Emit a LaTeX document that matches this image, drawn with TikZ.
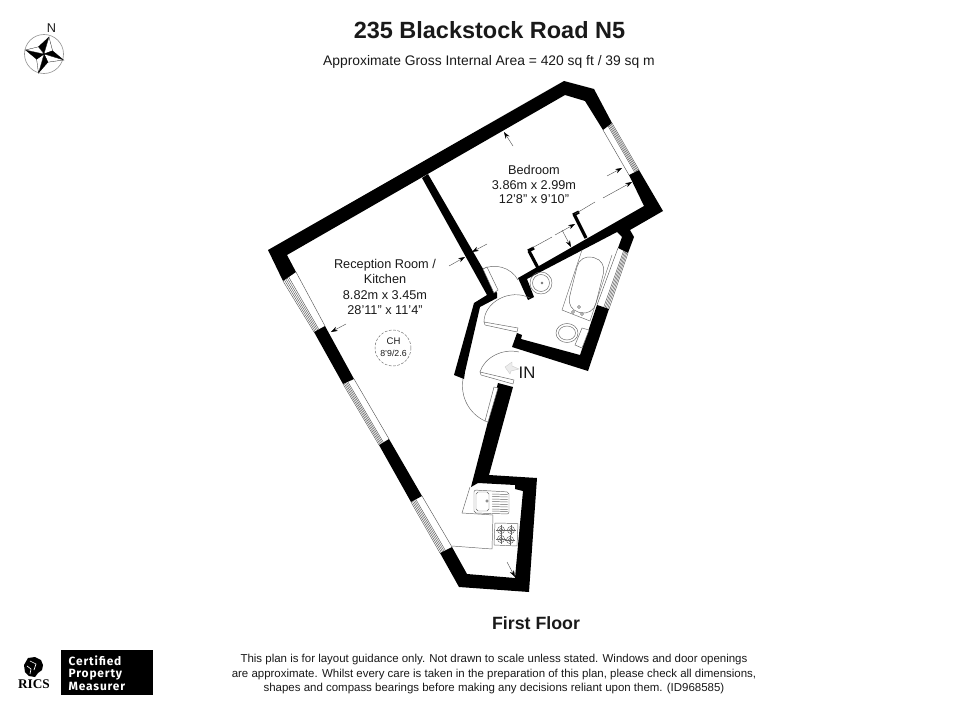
\documentclass[tikz,border=0pt]{standalone}
\usepackage{fontspec}
\setmainfont{Liberation Sans}
\newfontfamily\badgefont[LetterSpace=7]{Fira Sans}
\usepackage{xcolor}
\usetikzlibrary{calc}
\usetikzlibrary{arrows.meta}

\definecolor{fitting}{gray}{0.4}
\tikzset{
    wall/.style={fill=black,draw=none},
    fit/.style={draw=fitting,line width=0.35pt},
    glass/.style={draw=black!70,line width=0.3pt},
    leaf/.style={draw=fitting,line width=0.35pt,fill=white},
    stub/.style={line width=2.4pt,line cap=butt,black},
    dimline/.style={draw=black!70,line width=0.3pt},
    dimtip/.style={draw=black!70,line width=0.3pt,-{Stealth[length=5pt,width=3.4pt,black]}},
    label/.style={font=\fontsize{9.6}{11}\selectfont,align=center,text=black!90},
    footer/.style={font=\fontsize{8.65}{11}\selectfont,text=black!90}
}
% window bay: outer start, outer end, inner start, inner end
\newcommand{\bay}[4]{
    \foreach \f in {0,0.11,0.22,0.33,0.44,1} {
        \draw[glass] ($(#1)!\f!(#3)$) -- ($(#2)!\f!(#4)$);
    }
}

\begin{document}
\begin{tikzpicture}[x=0.0265cm,y=-0.0265cm]
    \useasboundingbox (0,0) rectangle (980,707);

    % Titre
    \node[font=\fontsize{17.7}{20}\selectfont\bfseries,text=black!90] (title) at (489.5,30) {235 Blackstock Road N5};
    \node[font=\fontsize{10.45}{12}\selectfont,text=black!90] (area) at (489,62) {Approximate Gross Internal Area = 420 sq ft / 39 sq m};
    \node[font=\fontsize{13.4}{15}\selectfont\bfseries,text=black!90] (floor) at (536,623) {First Floor};

    % Murs
    \fill[wall] (268,250) -- (564,81) -- (594,89) -- (612,123) -- (603,130) -- (585,101) -- (565,95) -- (287,255) -- (296,272) -- (283,281) -- cycle;
    \fill[wall] (629,175) -- (639,170) -- (663,211) -- (630,230) -- (634,237) -- (628,253) -- (618,248) -- (622,237) -- (617,232) -- (527,279) -- (534,297) -- (528,300) -- (518,278) -- (644,206) -- cycle;
    \fill[wall] (597,305) -- (609,309) -- (588,371) -- (512,347) -- (517,333) -- (522,335) -- (521,339) -- (580,355) -- cycle;
    \fill[wall] (422,178) -- (428,174) -- (497,293) -- (497,298) -- (480,307) -- (465,372) -- (464,379) -- (454,375) -- (474,303) -- (487,295) -- cycle;
    \fill[wall] (498,383) -- (513,387) -- (489,475) -- (537,478) -- (529,592) -- (459,587) -- (440,553) -- (452,547) -- (467,574) -- (515,578) -- (523,491) -- (515,489) -- (515,485) -- (478,483) -- (471,487) -- cycle;
    \fill[wall] (314,332) -- (325,326) -- (354,379) -- (343,384) -- cycle;
    \fill[wall] (379,445) -- (389,439) -- (422,496) -- (411,502) -- cycle;

    % Fenetres
    \bay{283,281}{314,332}{296,272}{325,326}
    \bay{343,384}{379,445}{354,379}{389,439}
    \bay{411,502}{440,553}{422,496}{452,547}
    \bay{612,123}{639,170}{603,130}{629,175}
    \bay{628,253}{609,309}{618,248}{597,305}

    % Placards
    \draw[stub] (574,214) -- (586,238);
    \draw[stub] (573,215) -- (579,212);
    \draw[stub] (529,251) -- (538,268);
    \draw[stub] (528,251) -- (534,248);

    % Cotes
    \draw[dimtip] (513,146) -- (504,132);
    \draw[dimtip] (607,176) -- (622,168);
    \draw[dimtip] (603,198) -- (632,182);
    \draw[dimline] (575,214) -- (595,202);
    \draw[dimtip] (555,235) -- (575,224);
    \draw[dimline] (532,248) -- (552,237);
    \draw[dimtip] (562,230) -- (571,247);
    \draw[dimtip] (449,266) -- (465,257);
    \draw[dimtip] (487,244) -- (472,252);
    \draw[dimtip] (346,324) -- (331,332);
    \draw[dimtip] (507,562) -- (515,577);

    % Portes
    \draw[fit] (483,269) .. controls (494,263) and (511,267) .. (518,280);
    \filldraw[leaf] (483,269) -- (487,267) -- (498,290) -- (494,293) -- cycle;
    \draw[fit] (484,322) .. controls (484,302) and (510,288) .. (530,298);
    \filldraw[leaf] (484,322) -- (485,325) -- (517,332) -- (518,328) -- cycle;
    \draw[fit] (480,372) .. controls (484,358) and (502,348) .. (519,352);
    \filldraw[leaf] (480,372) -- (481,375) -- (513,384) -- (514,380) -- cycle;
    \draw[fit] (463,379) .. controls (460,398) and (470,414) .. (485,421);
    \filldraw[leaf] (485,421) -- (488,422) -- (498,388) -- (494,387) -- cycle;
    \filldraw[draw=gray!40,fill=gray!15,line width=0.3pt] (505,367) -- (512,362) -- (512,366) -- (519,369) -- (511,371) -- (510,374) -- cycle;

    % Salle de bain
    \draw[fit] (582,250) -- (562,310) -- (590,321) -- (612,255);
    \node[fit,rotate=76,minimum width=1.5cm,minimum height=0.72cm,rounded corners=0.33cm] (tub) at (586.5,285) {};
    \draw[fit] (579,307) circle (1.5);
    \draw[fit] (573,312) circle (1.5);
    \draw[fit] (582,314) circle (1.5);
    \draw[fit] (541,283) circle (11);
    \draw[fit] (541,283) circle (8.5);
    \draw[fit] (542,283) circle (1);
    \draw[fit] (567,333) ellipse (11 and 9.5);
    \draw[fit] (567,333) ellipse (8.5 and 7);
    \filldraw[leaf] (582,328) -- (589,330) -- (582,348) -- (575,345) -- cycle;

    % Cuisine
    \draw[fit] (470,487) -- (462,513) -- (493,515) -- (492,549) -- (452,546);
    \draw[fit,rounded corners=1.5] (474,490) -- (509,492) -- (509,514) -- (474,513) -- cycle;
    \draw[fit,rounded corners=1.5] (476,492) -- (489,492) -- (489,511) -- (476,511) -- cycle;
    \draw[fit] (487,501) circle (1.3);
    \foreach \y in {494,496.5,499,501.5,504,506.5,509,511} {
        \draw[fit] (492,\y) -- (508,\y+0.5);
    }
    \draw[fit] (495,523) -- (518,523.5) -- (517,546) -- (494,545) -- cycle;
    \foreach \x/\y in {501/530,511/530,501/539,510/540} {
        \draw[fit] (\x,\y) circle (3.6);
        \draw[fit] (\x,\y) circle (1.8);
        \draw[fit] (\x-5,\y) -- (\x+5,\y);
        \draw[fit] (\x,\y-5) -- (\x,\y+5);
    }

    % Textes des pieces
    \node[label] (bedroom) at (534,184.5) {Bedroom\\3.86m x 2.99m\\12'8" x 9'10"};
    \node[label,font=\fontsize{9.6}{11.5}\selectfont] (reception) at (385,287) {Reception Room /\\Kitchen\\8.82m x 3.45m\\28'11" x 11'4"};
    \draw[fit,dash pattern=on 2pt off 1.2pt] (393,348) circle (18);
    \node[font=\fontsize{7.2}{8}\selectfont,text=black!90] (ch) at (393.5,341) {CH};
    \node[font=\fontsize{6.6}{8}\selectfont,text=black!90] (chsize) at (393.5,353) {8'9/2.6};
    \node[font=\fontsize{12.6}{14}\selectfont,text=black!90] (in) at (527,373) {IN};

    % Rose des vents
    \draw[gray!80,line width=0.5pt] (44,54) circle (19.5);
    \foreach \tx/\ty/\wx/\wy/\bx/\by in {49/37/38.4/46.8/52.6/50.8, 63.5/60/52.6/50.8/47.9/62.2, 38.5/73/47.9/62.2/36.6/59.2, 25.5/50/36.6/59.2/38.4/46.8} {
        \filldraw[black,line width=0.2pt] (\tx,\ty) -- (\wx,\wy) -- (44,54) -- cycle;
        \filldraw[draw=black,fill=white,line width=0.2pt] (\tx,\ty) -- (\bx,\by) -- (44,54) -- cycle;
    }
    \node[font=\fontsize{9.6}{12}\selectfont,text=black!90] (north) at (51.5,28.5) {N};

    % Pied de page
    \node[footer] (foot1) at (494,660) {This plan is for layout guidance only. Not drawn to scale unless stated. Windows and door openings};
    \node[footer] (foot2) at (494,675) {are approximate. Whilst every care is taken in the preparation of this plan, please check all dimensions,};
    \node[footer] (foot3) at (494,689) {shapes and compass bearings before making any decisions reliant upon them.  (ID968585)};

    % Logo
    \fill[black] (28,658) -- (35,657) -- (41,660) -- (43,665) -- (42,670) -- (38,673) -- (35,677) -- (29,676) -- (25,672) -- (24,665) -- cycle;
    \draw[white,line width=0.5pt] (30,661) -- (36,664) -- (34,670);
    \draw[white,line width=0.5pt] (27,666) -- (31,669) -- (30,674);
    \node[font=\fontsize{10}{11}\selectfont\bfseries,text=black] (rics) at (34,684) {\fontspec{Liberation Serif}RICS};
    \fill[black] (61,650) rectangle (153,695);
    \node[font=\fontsize{9}{9.6}\selectfont\badgefont\bfseries,text=white,align=left,anchor=west] (badge) at (64,673) {Certified\\Property\\Measurer};
\end{tikzpicture}
\end{document}
